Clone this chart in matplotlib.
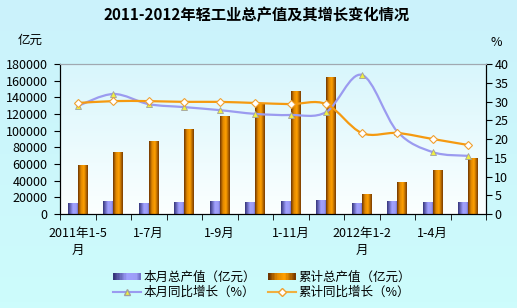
import matplotlib

matplotlib.use("Agg")
import matplotlib.pyplot as plt
import numpy as np
from matplotlib.colors import LinearSegmentedColormap
from matplotlib.path import Path
from matplotlib.patches import PathPatch, Rectangle
from matplotlib.lines import Line2D
from matplotlib.legend_handler import HandlerBase

plt.rcParams['font.family'] = ['Noto Sans CJK SC', 'DejaVu Sans']

categories = ["2011年1-5月", "1-6月", "1-7月", "1-8月", "1-9月", "1-10月",
              "1-11月", "1-12月", "2012年1-2月", "1-3月", "1-4月", "1-5月"]
tick_labels = ["2011年1-5\n月", "", "1-7月", "", "1-9月", "", "1-11月", "",
               "2012年1-2\n月", "", "1-4月", ""]
month_output = [13200, 15600, 13200, 14400, 15600, 14400,
                15600, 16800, 13200, 15600, 14400, 14400]   # 亿元
cum_output = [58800, 74400, 87600, 102000, 117600, 132000,
              147600, 164400, 24000, 38400, 52800, 67200]   # 亿元
month_growth = [28.8, 32.0, 29.3, 28.5, 27.7, 26.7,
                26.4, 27.2, 37.1, 22.0, 16.5, 15.5]         # %
cum_growth = [29.6, 30.1, 30.1, 29.9, 29.9, 29.6,
              29.3, 29.3, 21.6, 21.6, 20.0, 18.4]           # %

series_names = ["本月总产值（亿元）", "累计总产值（亿元）", "本月同比增长（%）", "累计同比增长（%）"]

blue_cmap = LinearSegmentedColormap.from_list(
    "bluebar", [(0, "#35357a"), (0.5, "#a0a0ff"), (0.85, "#9c9cf5"), (1, "#7474cc")])
orange_cmap = LinearSegmentedColormap.from_list(
    "orangebar", [(0, "#6e3500"), (0.3, "#e08800"), (0.6, "#ffa000"), (1, "#7a3c00")])
grad_row = np.linspace(0, 1, 64).reshape(1, -1)


def smooth_path(xs, ys):
    # cubic bezier through the points (like Excel's smoothed line)
    pts = np.column_stack([xs, ys]).astype(float)
    verts = [pts[0]]
    codes = [Path.MOVETO]
    n = len(pts)
    for i in range(n - 1):
        p0 = pts[i - 1] if i > 0 else pts[i]
        p1, p2 = pts[i], pts[i + 1]
        p3 = pts[i + 2] if i + 2 < n else pts[i + 1]
        verts += [p1 + (p2 - p0) / 6, p2 - (p3 - p1) / 6, p2]
        codes += [Path.CURVE4] * 3
    return Path(verts, codes)


class GradientHandler(HandlerBase):
    def __init__(self, cmap):
        super().__init__()
        self.cmap = cmap

    def create_artists(self, legend, orig_handle, xdescent, ydescent, width, height, fontsize, trans):
        n = 20
        arts = []
        for k in range(n):
            r = Rectangle((-xdescent + width * k / n, -ydescent + height * 0.1), width / n + 0.3, height * 0.8,
                          facecolor=self.cmap(k / (n - 1)), edgecolor="none", transform=trans)
            arts.append(r)
        return arts


fig = plt.figure(figsize=(5.17, 3.08), dpi=100)

# figure background
bg = fig.add_axes([0, 0, 1, 1], zorder=-10)
bg.imshow(np.linspace(0, 1, 50).reshape(-1, 1),
          cmap=LinearSegmentedColormap.from_list("bg", ["#cbf2fb", "#cdfcfc"]),
          aspect="auto", extent=[0, 1, 0, 1])
bg.axis("off")

ax = fig.add_axes([60 / 517, 94 / 308, 426 / 517, 150 / 308])
ax.patch.set_alpha(0)
x = np.arange(len(categories))
ax.imshow(np.linspace(0, 1, 50).reshape(-1, 1),
          cmap=LinearSegmentedColormap.from_list("pa", ["#fbffff", "#d8f6fc"]),
          aspect="auto", extent=[0, 1, 0, 1], transform=ax.transAxes, zorder=0, origin="lower")

bw = 0.28
for xi, m, c in zip(x, month_output, cum_output):
    ax.imshow(grad_row, cmap=blue_cmap, aspect="auto", extent=[xi - bw, xi, 0, m], zorder=2)
    ax.imshow(grad_row, cmap=orange_cmap, aspect="auto", extent=[xi, xi + bw, 0, c], zorder=2)

ax.set_xlim(-0.5, len(categories) - 0.5)
ax.set_ylim(0, 180000)
ax.set_yticks(np.arange(0, 180001, 20000))
ax.set_xticks(x)
ax.set_xticklabels(tick_labels, fontsize=9, linespacing=1.4)
ax.set_xticks(np.arange(-0.5, len(categories), 1), minor=True)
ax.tick_params(axis="x", which="major", length=0, pad=9)
ax.tick_params(axis="x", which="minor", length=4, direction="out")
ax.tick_params(axis="y", length=4, direction="out", labelsize=9, pad=5)
for s in ["left", "bottom", "right"]:
    ax.spines[s].set_color("black")
    ax.spines[s].set_linewidth(0.8)
ax.spines["top"].set_color("#a0a8b0")

ax2 = ax.twinx()
ax2.set_ylim(0, 40)
ax2.set_yticks(np.arange(0, 41, 5))
ax2.tick_params(axis="y", length=4, direction="out", labelsize=9, pad=2)
ax2.spines["top"].set_color("#a0a8b0")
ax2.spines["right"].set_color("black")

ax2.add_patch(PathPatch(smooth_path(x, month_growth), facecolor="none",
                        edgecolor="#9b9bf0", linewidth=1.6, zorder=3))
ax2.plot(x, month_growth, linestyle="none", marker="^", markersize=5,
         markerfacecolor="#f0f040", markeredgecolor="#a0a0a0", markeredgewidth=0.6, zorder=4)
ax2.add_patch(PathPatch(smooth_path(x, cum_growth), facecolor="none",
                        edgecolor="#f59a10", linewidth=1.6, zorder=5))
ax2.plot(x, cum_growth, linestyle="none", marker="D", markersize=4.5,
         markerfacecolor="white", markeredgecolor="#f0a030", markeredgewidth=0.8, zorder=6)

fig.suptitle("2011-2012年轻工业总产值及其增长变化情况", x=257 / 517, y=1 - 15 / 308,
             va="center", fontsize=11, fontweight="bold")
fig.text(30 / 517, 1 - 40 / 308, "亿元", ha="center", va="center", fontsize=9)
fig.text(496 / 517, 1 - 43 / 308, "%", ha="center", va="center", fontsize=9)

h_blue = Rectangle((0, 0), 1, 1)
h_orange = Rectangle((0, 0), 1, 1)
h_l1 = Line2D([], [], color="#9b9bf0", linewidth=1.5, marker="^", markersize=4.5,
              markerfacecolor="#f0f040", markeredgecolor="#a0a0a0")
h_l2 = Line2D([], [], color="#f0b040", linewidth=1.5, marker="D", markersize=4,
              markerfacecolor="white", markeredgecolor="#f0a030")
# ncol=2 fills column by column
fig.legend([h_blue, h_l1, h_orange, h_l2],
           [series_names[0], series_names[2], series_names[1], series_names[3]],
           handler_map={h_blue: GradientHandler(blue_cmap), h_orange: GradientHandler(orange_cmap)},
           loc="center", bbox_to_anchor=(262 / 517, 1 - 285 / 308), ncol=2, frameon=False,
           fontsize=9, handlelength=2.2, handletextpad=0.2, columnspacing=1.0,
           labelspacing=0.2, borderpad=0)

fig.savefig("out.png", dpi=100)
